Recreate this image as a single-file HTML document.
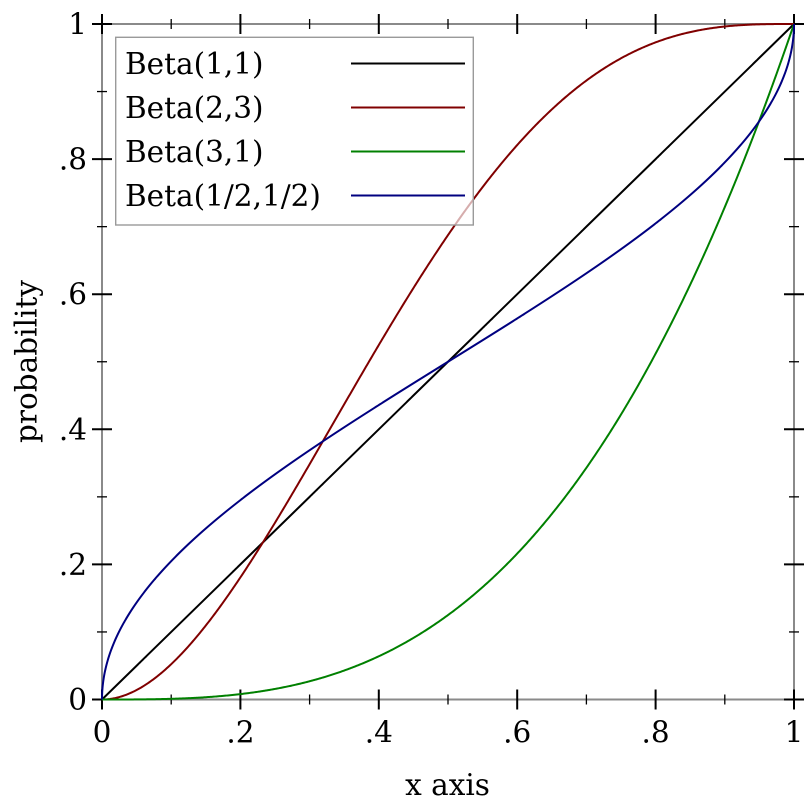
<!DOCTYPE html>
<html>
<head>
<meta charset="utf-8">
<style>
html,body{margin:0;padding:0;background:#fff;}
svg{display:block;}
text{font-family:"DejaVu Serif","Liberation Serif",serif;font-size:29.5px;fill:#000;}
</style>
</head>
<body>
<svg id="s" width="812" height="812" viewBox="0 0 812 812" xmlns="http://www.w3.org/2000/svg">
<rect width="812" height="812" fill="#fff"/>
<g stroke="#8a8a8a" stroke-width="2" fill="none">
<line x1="102" y1="24" x2="794" y2="24"/>
<line x1="102" y1="699.5" x2="794" y2="699.5"/>
<line x1="102" y1="24" x2="102" y2="699.5"/>
<line x1="794" y1="24" x2="794" y2="699.5"/>
</g>
<g id="ticks2" stroke="#000"></g>
<g id="labels"></g>
<text x="36.5" y="361.5" text-anchor="middle" transform="rotate(-90 36.5 361.5)">probability</text>
<text x="447.5" y="795" text-anchor="middle">x axis</text>
<g id="curves" fill="none" stroke-width="2" stroke-linejoin="round"></g>
<rect x="115.7" y="37.3" width="357.6" height="187.7" fill="#fff" fill-opacity="0.68" stroke="#9a9a9a" stroke-width="1.4"/>
<text x="125" y="74">Beta(1,1)</text>
<text x="125" y="118">Beta(2,3)</text>
<text x="125" y="162">Beta(3,1)</text>
<text x="125" y="206">Beta(1/2,1/2)</text>
<g stroke-width="2">
<line x1="351" y1="63.5" x2="465" y2="63.5" stroke="#000"/>
<line x1="351" y1="107.5" x2="465" y2="107.5" stroke="#800000"/>
<line x1="351" y1="151.5" x2="465" y2="151.5" stroke="#008000"/>
<line x1="351" y1="195.5" x2="465" y2="195.5" stroke="#000080"/>
</g>
</svg>
<script>
(function(){
var NS="http://www.w3.org/2000/svg";
var X0=102,X1=794,Y0=699.5,Y1=24;
function px(x){return X0+(X1-X0)*x;}
function py(y){return Y0-(Y0-Y1)*y;}
function ln(g,x1,y1,x2,y2,w){var l=document.createElementNS(NS,"line");l.setAttribute("x1",x1);l.setAttribute("y1",y1);l.setAttribute("x2",x2);l.setAttribute("y2",y2);l.setAttribute("stroke-width",w);g.appendChild(l);}
var tg=document.getElementById("ticks2");
for(var i=0;i<=10;i++){
  var v=i/10, major=(i%2==0), L=major?10:5, w=major?2:1.3;
  var x=px(v), y=py(v);
  ln(tg,x,Y0-L,x,Y0+L,w);
  ln(tg,x,Y1-L,x,Y1+L,w);
  ln(tg,X0-L,y,X0+L,y,w);
  ln(tg,X1-L,y,X1+L,y,w);
}
var lg=document.getElementById("labels");
var labs=["0",".2",".4",".6",".8","1"];
for(var j=0;j<6;j++){
  var v=j/5;
  var t=document.createElementNS(NS,"text");
  t.setAttribute("x",px(v));t.setAttribute("y",742.5);t.setAttribute("text-anchor","middle");t.textContent=labs[j];lg.appendChild(t);
  var t2=document.createElementNS(NS,"text");
  t2.setAttribute("x",87);t2.setAttribute("y",py(v)+10.5);t2.setAttribute("text-anchor","end");t2.textContent=labs[j];lg.appendChild(t2);
}
var fs=[
 [function(x){return x;},"#000"],
 [function(x){return 6*x*x-8*x*x*x+3*x*x*x*x;},"#800000"],
 [function(x){return x*x*x;},"#008000"],
 [function(x){return 2/Math.PI*Math.asin(Math.sqrt(Math.max(0,Math.min(1,x))));},"#000080"]
];
var cg=document.getElementById("curves");
fs.forEach(function(f){
  var d="",N=600;
  for(var k=0;k<=N;k++){
    var x=k/N;
    if(f[1]=="#000080"){ x=(1-Math.cos(Math.PI*k/N))/2; }
    d+=(k?"L":"M")+px(x).toFixed(2)+" "+py(f[0](x)).toFixed(2);
  }
  var p=document.createElementNS(NS,"path");p.setAttribute("d",d);p.setAttribute("stroke",f[1]);cg.appendChild(p);
});
})();
</script>
</body>
</html>
